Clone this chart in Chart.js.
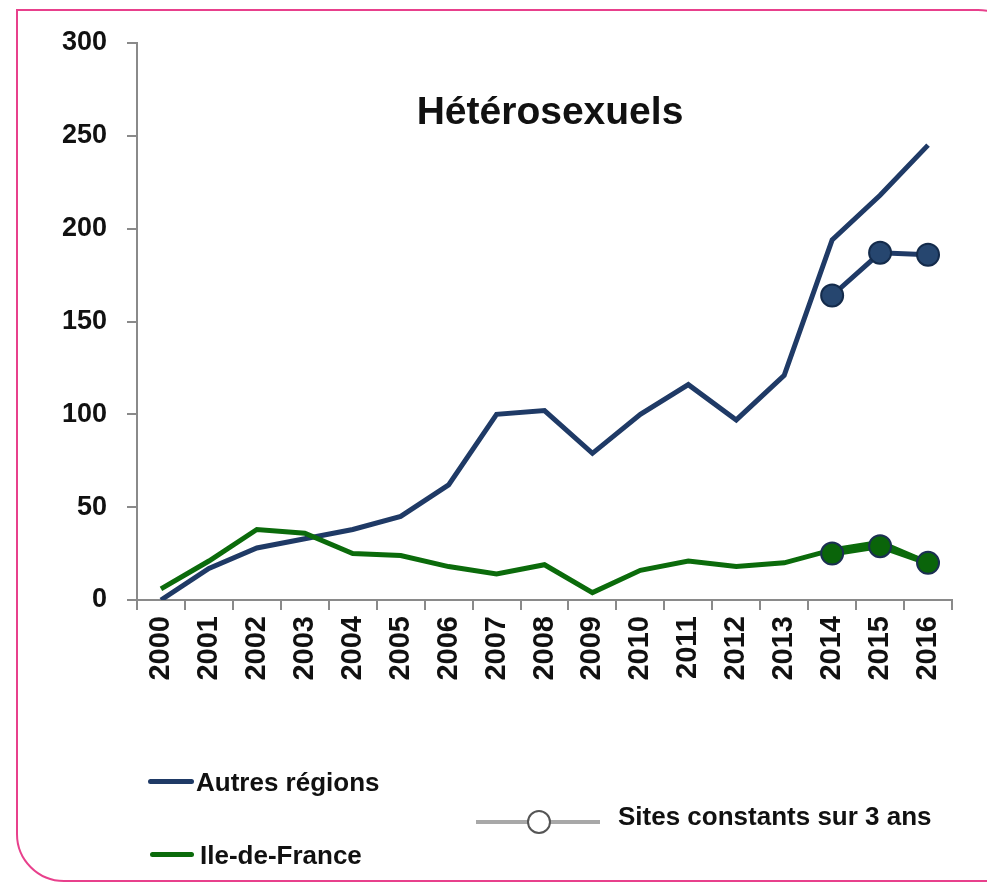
<!DOCTYPE html>
<html>
<head>
<meta charset="utf-8">
<script src="https://cdn.jsdelivr.net/npm/chart.js@4.4.1/dist/chart.umd.min.js"></script>
<style>
  html, body { margin: 0; padding: 0; background: #fff; overflow: hidden; }
  body { width: 987px; height: 882px; position: relative; font-family: "Liberation Sans", Arial, sans-serif; }
  #frame {
    position: absolute; left: 16px; top: 9px; width: 1010px; height: 873px;
    border: 2px solid #e8408c; border-radius: 0 48px 0 48px; box-sizing: border-box;
  }
  #wrap { position: absolute; left: 0; top: 0; width: 987px; height: 882px; }
  .leg { position: absolute; font-weight: bold; font-size: 26px; color: #111; line-height: 1; white-space: nowrap; }
  .sw { position: absolute; height: 5px; border-radius: 3px; }
</style>
</head>
<body>
<div id="frame"></div>
<div id="wrap"><canvas id="chart" width="987" height="882"></canvas></div>

<div class="sw" style="left:148px; top:779px; width:46px; background:#1f3a66;"></div>
<div class="leg" style="left:196px; top:769px;">Autres régions</div>
<div class="sw" style="left:150px; top:852px; width:44px; background:#0b6b0b;"></div>
<div class="leg" style="left:200px; top:842px;">Ile-de-France</div>
<div class="sw" style="left:476px; top:820px; width:124px; height:4px; border-radius:0; background:#a8a8a8;"></div>
<div style="position:absolute; left:527px; top:810px; width:24px; height:24px; border-radius:50%; background:#fff; border:2px solid #555; box-sizing:border-box;"></div>
<div class="leg" style="left:618px; top:803px;">Sites constants sur 3 ans</div>

<script>
// Hétérosexuels : nombre de cas par année
const years = ['2000','2001','2002','2003','2004','2005','2006','2007','2008','2009','2010','2011','2012','2013','2014','2015','2016'];
const autresRegions = [0, 17, 28, 33, 38, 45, 62, 100, 102, 79, 100, 116, 97, 121, 194, 218, 245];
const ileDeFrance   = [6, 21, 38, 36, 25, 24, 18, 14, 19, 4, 16, 21, 18, 20, 27, 31, 20];
// sites constants sur 3 ans (2014-2016 seulement)
const autresConstants = [null, null, null, null, null, null, null, null, null, null, null, null, null, null, 164, 187, 186];
const idfConstants    = [null, null, null, null, null, null, null, null, null, null, null, null, null, null, 25, 29, 20];
const yTicks = [0, 50, 100, 150, 200, 250, 300];

const NAVY = '#1f3a66';
const GREEN = '#0b6b0b';
const AXIS = '#8a8a8a';
const FONT = '"Liberation Sans", Arial, sans-serif';

// titre dessiné dans la zone du graphe
const titlePlugin = {
    id: 'innerTitle',
    afterDraw(chart) {
        const c = chart.ctx;
        c.save();
        c.font = 'bold 39px ' + FONT;
        c.fillStyle = '#111';
        c.textAlign = 'center';
        c.textBaseline = 'alphabetic';
        c.fillText('Hétérosexuels', 550, 124);
        c.restore();
    }
};

new Chart(document.getElementById('chart').getContext('2d'), {
    type: 'line',
    data: {
        labels: years,
        datasets: [
            { label: 'Autres régions', data: autresRegions, borderColor: NAVY, borderWidth: 5, pointRadius: 0, tension: 0, order: 4 },
            { label: 'Ile-de-France', data: ileDeFrance, borderColor: GREEN, borderWidth: 5, pointRadius: 0, tension: 0, order: 3 },
            { label: 'Autres régions (sites constants)', data: autresConstants, borderColor: NAVY, borderWidth: 5,
              pointRadius: 11, pointBackgroundColor: '#26466f', pointBorderColor: '#142b4b', pointBorderWidth: 2, tension: 0, order: 2 },
            { label: 'Ile-de-France (sites constants)', data: idfConstants, borderColor: GREEN, borderWidth: 6,
              pointRadius: 11, pointBackgroundColor: '#0a640a', pointBorderColor: '#1b2f52', pointBorderWidth: 2, tension: 0, order: 1 }
        ]
    },
    options: {
        responsive: false,
        animation: false,
        layout: { padding: { top: 43, right: 35, left: 0, bottom: 0 } },
        plugins: { legend: { display: false }, tooltip: { enabled: false }, title: { display: false } },
        scales: {
            x: {
                offset: true,
                grid: { display: true, offset: true, drawOnChartArea: false, drawTicks: true, tickLength: 10, color: AXIS, lineWidth: 2 },
                border: { color: AXIS, width: 2 },
                ticks: { color: '#111', font: { family: FONT, size: 29, weight: 'bold' }, minRotation: 90, maxRotation: 90, padding: 6, autoSkip: false },
                afterFit(scale) { scale.height = 282; }
            },
            y: {
                min: 0, max: 300,
                afterBuildTicks(scale) { scale.ticks = yTicks.map(v => ({ value: v })); },
                grid: { display: true, drawOnChartArea: false, drawTicks: true, tickLength: 10, color: AXIS, lineWidth: 2 },
                border: { color: AXIS, width: 2 },
                ticks: { color: '#111', font: { family: FONT, size: 27, weight: 'bold' }, padding: 20 },
                afterFit(scale) { scale.width = 137; }
            }
        }
    },
    plugins: [titlePlugin]
});
</script>
</body>
</html>
